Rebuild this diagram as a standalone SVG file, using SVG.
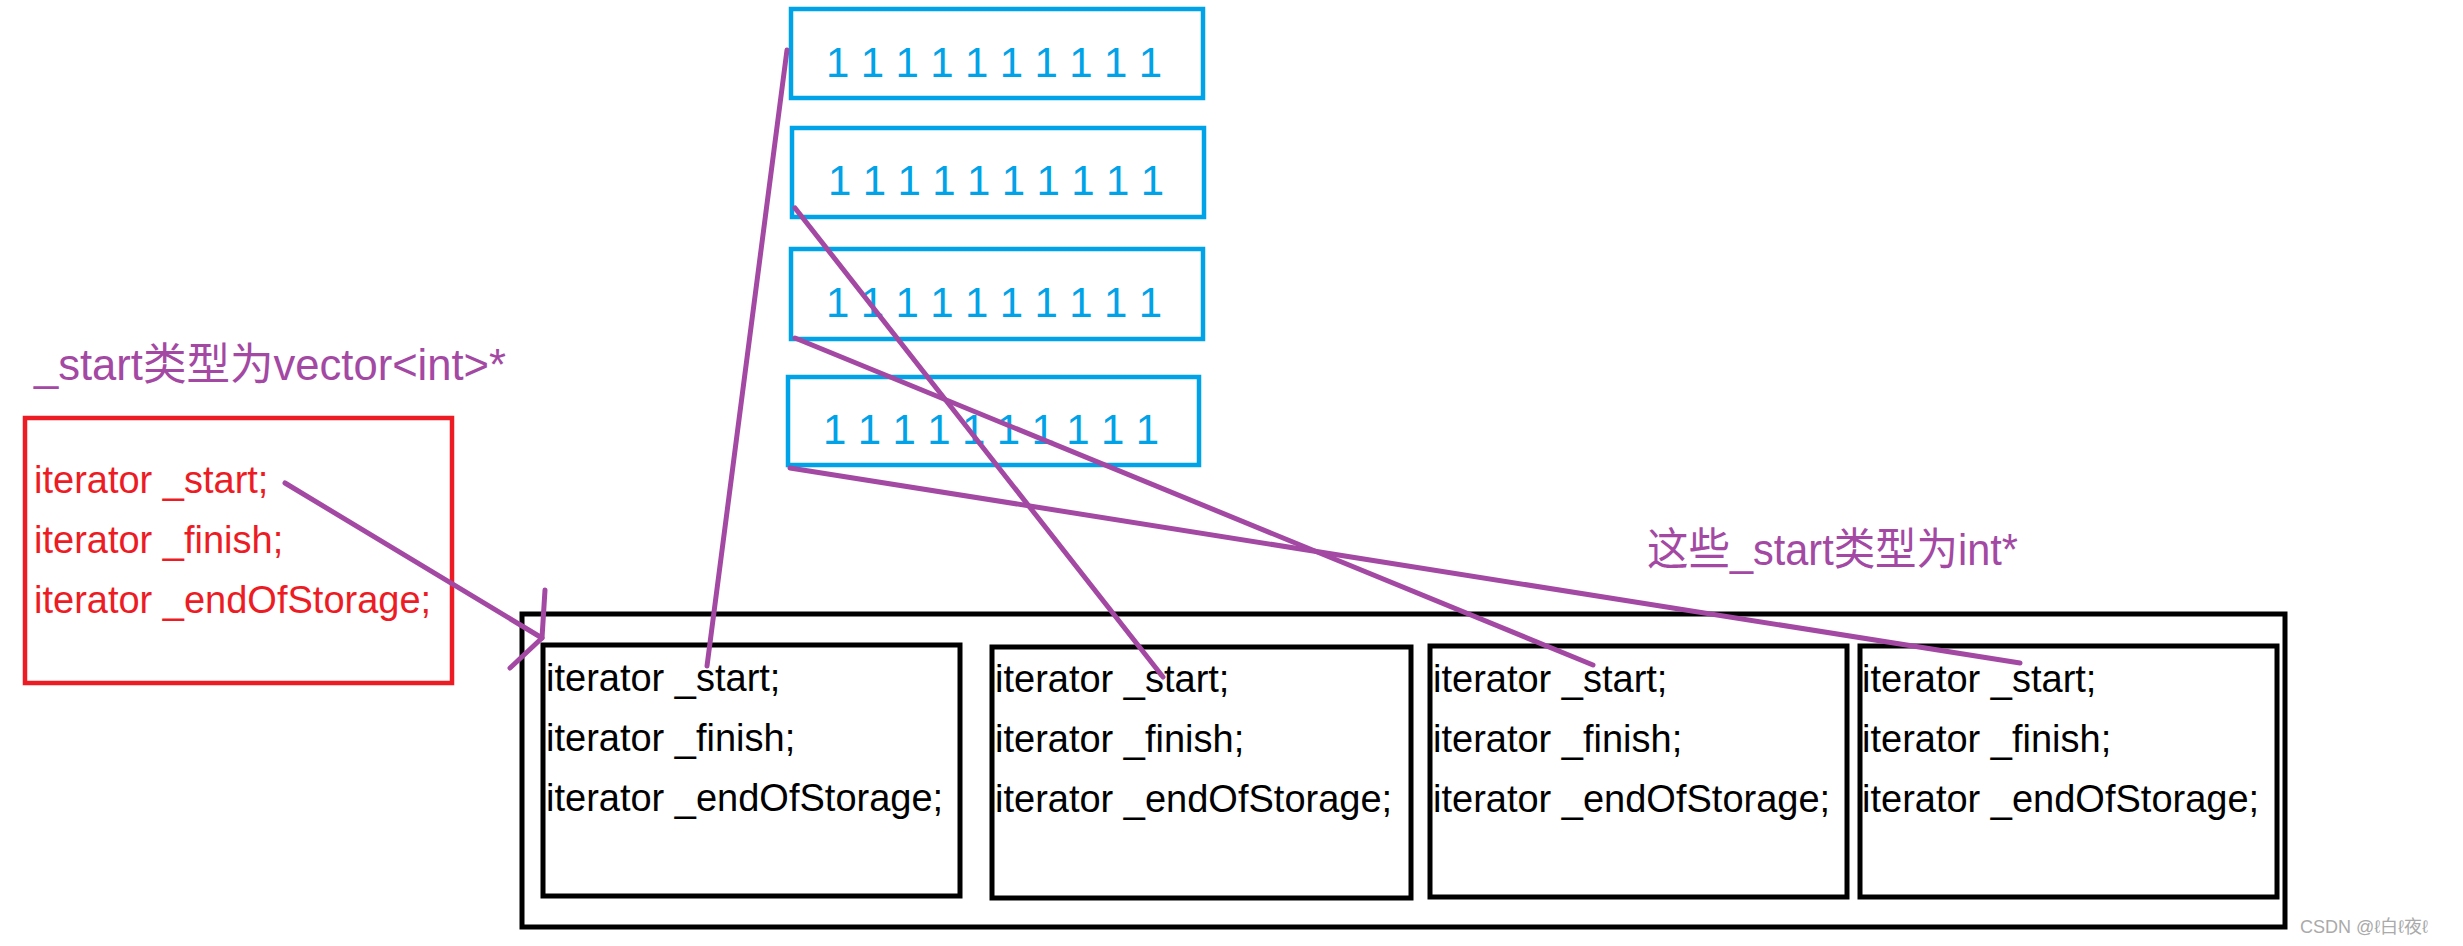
<svg xmlns="http://www.w3.org/2000/svg" width="2463" height="946" viewBox="0 0 2463 946">
<style>
.blue{fill:none;stroke:#00A2E8;stroke-width:4.5}
.ones{font-family:"Liberation Sans","Noto Sans CJK SC",sans-serif;font-size:42px;fill:#00A2E8}
.red{fill:none;stroke:#ED1C24;stroke-width:4.5}
.rt{font-family:"Liberation Sans","Noto Sans CJK SC",sans-serif;font-size:38px;fill:#ED1C24}
.bk{fill:none;stroke:#000;stroke-width:5}
.bt{font-family:"Liberation Sans","Noto Sans CJK SC",sans-serif;font-size:38px;fill:#000}
.pt{font-family:"Liberation Sans","Noto Sans CJK SC",sans-serif;font-size:44px;fill:#A349A4}
.pl{fill:none;stroke:#A349A4;stroke-width:5;stroke-linecap:round;stroke-linejoin:round}
.wm{font-family:"Liberation Sans","Noto Sans CJK SC",sans-serif;font-size:18px;fill:#aaa}
</style>
<rect width="2463" height="946" fill="#fff"/>
<g id="arr1">
<rect class="blue" x="791" y="9" width="412" height="89"/>
<text class="ones" x="826" y="77" textLength="336" lengthAdjust="spacing">1 1 1 1 1 1 1 1 1 1</text>
</g>
<g id="arr2">
<rect class="blue" x="792" y="128" width="412" height="89"/>
<text class="ones" x="828" y="195" textLength="336" lengthAdjust="spacing">1 1 1 1 1 1 1 1 1 1</text>
</g>
<g id="arr3">
<rect class="blue" x="791" y="249" width="412" height="90"/>
<text class="ones" x="826" y="317" textLength="336" lengthAdjust="spacing">1 1 1 1 1 1 1 1 1 1</text>
</g>
<g id="arr4">
<rect class="blue" x="788" y="377" width="411" height="88"/>
<text class="ones" x="823" y="444" textLength="336" lengthAdjust="spacing">1 1 1 1 1 1 1 1 1 1</text>
</g>
<g id="label1">
<text class="pt" x="34" y="380" textLength="472" lengthAdjust="spacingAndGlyphs">_start类型为vector&lt;int&gt;*</text>
</g>
<g id="label2">
<text class="pt" x="1647" y="565" textLength="371" lengthAdjust="spacingAndGlyphs">这些_start类型为int*</text>
</g>
<g id="outer">
<rect class="red" x="25" y="418" width="427" height="265"/>
<text class="rt" x="34" y="493">iterator _start;</text>
<text class="rt" x="34" y="553">iterator _finish;</text>
<text class="rt" x="34" y="613">iterator _endOfStorage;</text>
</g>
<g id="container">
<rect class="bk" x="522" y="614" width="1763" height="313"/>
</g>
<g id="vecA">
<rect class="bk" x="543" y="645" width="417" height="251"/>
<text class="bt" x="546" y="691">iterator _start;</text>
<text class="bt" x="546" y="751">iterator _finish;</text>
<text class="bt" x="546" y="811">iterator _endOfStorage;</text>
</g>
<g id="vecB">
<rect class="bk" x="992" y="647" width="419" height="251"/>
<text class="bt" x="995" y="692">iterator _start;</text>
<text class="bt" x="995" y="752">iterator _finish;</text>
<text class="bt" x="995" y="812">iterator _endOfStorage;</text>
</g>
<g id="vecC">
<rect class="bk" x="1430" y="646" width="417" height="251"/>
<text class="bt" x="1433" y="692">iterator _start;</text>
<text class="bt" x="1433" y="752">iterator _finish;</text>
<text class="bt" x="1433" y="812">iterator _endOfStorage;</text>
</g>
<g id="vecD">
<rect class="bk" x="1860" y="646" width="417" height="251"/>
<text class="bt" x="1862" y="692">iterator _start;</text>
<text class="bt" x="1862" y="752">iterator _finish;</text>
<text class="bt" x="1862" y="812">iterator _endOfStorage;</text>
</g>
<g id="connectors">
<line class="pl" x1="285" y1="483" x2="542" y2="638"/>
<polyline class="pl" points="545,590 542,638 510,668"/>
<line class="pl" x1="787" y1="50" x2="707" y2="666"/>
<line class="pl" x1="795" y1="208" x2="1163" y2="677"/>
<line class="pl" x1="795" y1="338" x2="1593" y2="665"/>
<line class="pl" x1="790" y1="468" x2="2020" y2="663"/>
</g>
<text class="wm" x="2300" y="933">CSDN @ℓ白ℓ夜ℓ</text>
</svg>
